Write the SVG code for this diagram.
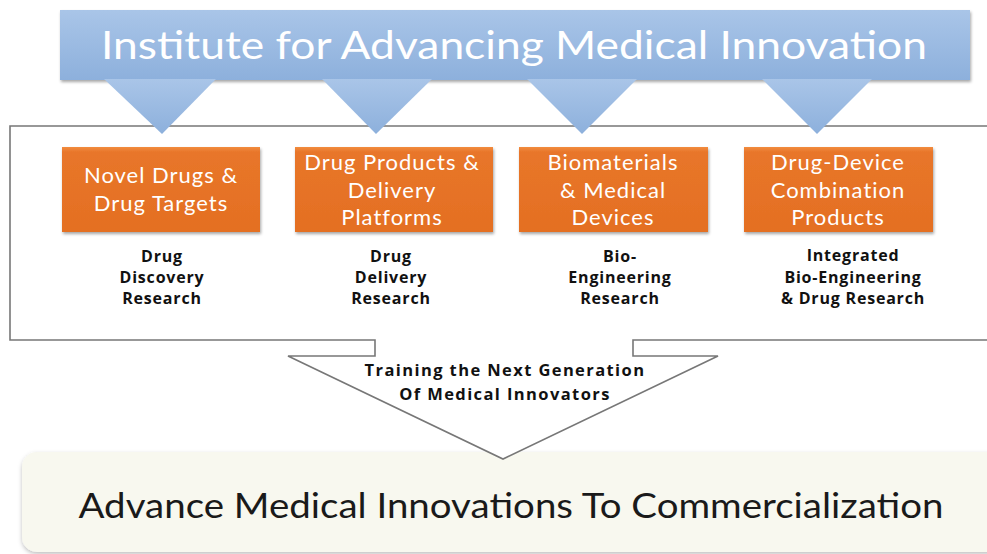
<svg xmlns="http://www.w3.org/2000/svg" width="987" height="554" viewBox="0 0 987 554">
<defs>
<linearGradient id="blue" x1="0" y1="0" x2="0" y2="1">
<stop offset="0" stop-color="#A9C5E8"/>
<stop offset="1" stop-color="#8DB0DC"/>
</linearGradient>
<linearGradient id="orange" x1="0" y1="0" x2="0" y2="1">
<stop offset="0" stop-color="#F28C3E"/>
<stop offset="0.06" stop-color="#E8762A"/>
<stop offset="1" stop-color="#E46F22"/>
</linearGradient>
<filter id="sh" x="-5%" y="-5%" width="110%" height="120%">
<feDropShadow dx="1" dy="2" stdDeviation="1.5" flood-color="#000" flood-opacity="0.35"/>
</filter>
<filter id="sh2" x="-5%" y="-10%" width="110%" height="130%">
<feDropShadow dx="0" dy="2" stdDeviation="2" flood-color="#000" flood-opacity="0.25"/>
</filter>
<style>
.ot{font-family:Lato,"Open Sans",sans-serif;font-size:22px;letter-spacing:1px;fill:#fff;text-anchor:middle}
.st{font-family:"Open Sans","Liberation Sans",sans-serif;font-size:16px;letter-spacing:0.8px;font-weight:bold;fill:#111;text-anchor:middle}
.tt{font-family:"Open Sans","Liberation Sans",sans-serif;font-size:16.5px;letter-spacing:1.4px;font-weight:bold;fill:#111;text-anchor:middle}
.ob{fill:url(#orange);filter:url(#sh)}
.tri{fill:url(#blue)}
</style>
</defs>

<g id="bottom-box">
<rect x="22" y="452" width="990" height="100" rx="15" fill="#F8F8EF" filter="url(#sh2)"/>
<text x="511" y="518" font-family="Lato,'Open Sans',sans-serif" font-size="34" fill="#1a1a1a" text-anchor="middle" textLength="865" lengthAdjust="spacingAndGlyphs">Advance Medical Innovations To Commercialization</text>
</g>

<g id="main-box">
<path d="M10 126 H1000 M1000 340 H633 V356 H718 L503 459 L288 356 H375 V340 H10 V126" fill="#fff" stroke="none"/>
<path d="M1000 126 H10 V340 H375 V356 H288 L503 459 L718 356 H633 V340 H1000" fill="none" stroke="#777" stroke-width="1.6" stroke-linejoin="miter"/>
<text class="tt" x="505" y="376">Training the Next Generation</text>
<text class="tt" x="505" y="400">Of Medical Innovators</text>
</g>

<g id="banner">
<rect x="60" y="10" width="910" height="70" fill="url(#blue)" filter="url(#sh)"/>
<polygon class="tri" points="104,79 216,79 162,134"/>
<polygon class="tri" points="322,79 432,79 376,134"/>
<polygon class="tri" points="527,79 637,79 582,134"/>
<polygon class="tri" points="762,79 872,79 817,134"/>
<text x="514" y="59" font-family="Lato,'Open Sans',sans-serif" font-size="38" fill="#fff" text-anchor="middle" textLength="826" lengthAdjust="spacingAndGlyphs">Institute for Advancing Medical Innovation</text>
</g>

<g id="novel-drugs">
<rect class="ob" x="62" y="147" width="198" height="85"/>
<text class="ot" x="161" y="183">Novel Drugs &amp;</text>
<text class="ot" x="161" y="211">Drug Targets</text>
<text class="st" x="162" y="262">Drug</text>
<text class="st" x="162" y="283">Discovery</text>
<text class="st" x="162" y="304">Research</text>
</g>

<g id="drug-products">
<rect class="ob" x="295" y="147" width="198" height="85"/>
<text class="ot" x="392" y="170">Drug Products &amp;</text>
<text class="ot" x="392" y="198">Delivery</text>
<text class="ot" x="392" y="225">Platforms</text>
<text class="st" x="391" y="262">Drug</text>
<text class="st" x="391" y="283">Delivery</text>
<text class="st" x="391" y="304">Research</text>
</g>

<g id="biomaterials">
<rect class="ob" x="519" y="147" width="189" height="85"/>
<text class="ot" x="613" y="170">Biomaterials</text>
<text class="ot" x="613" y="198">&amp; Medical</text>
<text class="ot" x="613" y="225">Devices</text>
<text class="st" x="620" y="262">Bio-</text>
<text class="st" x="620" y="283">Engineering</text>
<text class="st" x="620" y="304">Research</text>
</g>

<g id="drug-device">
<rect class="ob" x="744" y="147" width="189" height="85"/>
<text class="ot" x="838" y="170">Drug-Device</text>
<text class="ot" x="838" y="198">Combination</text>
<text class="ot" x="838" y="225">Products</text>
<text class="st" x="853" y="261">Integrated</text>
<text class="st" x="853" y="283">Bio-Engineering</text>
<text class="st" x="853" y="304">&amp; Drug Research</text>
</g>
</svg>
